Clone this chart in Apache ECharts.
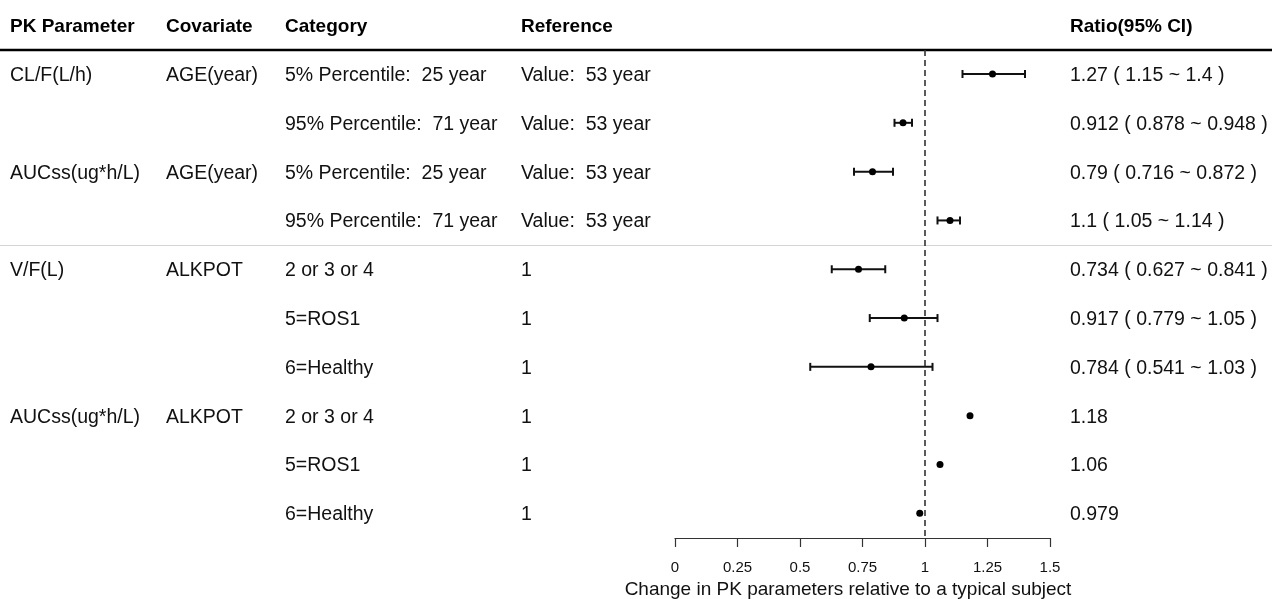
<!DOCTYPE html>
<html>
<head>
<meta charset="utf-8">
<script src="https://cdn.jsdelivr.net/npm/echarts@6/dist/echarts.min.js"></script>
<style>html,body{margin:0;padding:0;background:#fff;}#c{width:1272px;height:599px;}</style>
</head>
<body>
<div id="c"></div>
<script>
const headers = ['PK Parameter', 'Covariate', 'Category', 'Reference', 'Ratio(95% CI)'];
const pkParams = ['CL/F(L/h)', '', 'AUCss(ug*h/L)', '', 'V/F(L)', '', '', 'AUCss(ug*h/L)', '', ''];
const covariates = ['AGE(year)', '', 'AGE(year)', '', 'ALKPOT', '', '', 'ALKPOT', '', ''];
const categories = ['5% Percentile:  25 year', '95% Percentile:  71 year', '5% Percentile:  25 year', '95% Percentile:  71 year',
  '2 or 3 or 4', '5=ROS1', '6=Healthy', '2 or 3 or 4', '5=ROS1', '6=Healthy'];
const references = ['Value:  53 year', 'Value:  53 year', 'Value:  53 year', 'Value:  53 year', '1', '1', '1', '1', '1', '1'];
const ratios = [1.27, 0.912, 0.79, 1.1, 0.734, 0.917, 0.784, 1.18, 1.06, 0.979];
const lower = [1.15, 0.878, 0.716, 1.05, 0.627, 0.779, 0.541, null, null, null];
const upper = [1.4, 0.948, 0.872, 1.14, 0.841, 1.05, 1.03, null, null, null];
const ratioLabels = ['1.27 ( 1.15 ~ 1.4 )', '0.912 ( 0.878 ~ 0.948 )', '0.79 ( 0.716 ~ 0.872 )', '1.1 ( 1.05 ~ 1.14 )',
  '0.734 ( 0.627 ~ 0.841 )', '0.917 ( 0.779 ~ 1.05 )', '0.784 ( 0.541 ~ 1.03 )', '1.18', '1.06', '0.979'];
const xTicks = [0, 0.25, 0.5, 0.75, 1, 1.25, 1.5];

const FONT = '"Liberation Sans", Arial, sans-serif';
const colX = [10, 166, 285, 521, 1070];
const FS = 19.5;
const Y_MIN = 0.508, Y_MAX = 10.506;

const chart = echarts.init(document.getElementById('c'));

const textData = ratios.map((r, i) => [1, i + 1]);
const ciData = ratios.map((r, i) => [lower[i], upper[i], i + 1]).filter(d => d[0] != null);

chart.setOption({
  animation: false,
  grid: { left: 675, right: 222, top: 50, bottom: 61, containLabel: false, outerBoundsMode: 'none' },
  xAxis: {
    type: 'value', min: xTicks[0], max: xTicks[xTicks.length - 1], interval: 0.25,
    axisLine: { show: true, lineStyle: { color: '#333', width: 1.2 } },
    axisTick: { show: true, length: 9, inside: false, lineStyle: { color: '#333', width: 1.2 } },
    splitLine: { show: false },
    axisLabel: { color: '#111', fontSize: 15, fontFamily: FONT, margin: 22,
      formatter: v => String(v) },
    name: 'Change in PK parameters relative to a typical subject',
    nameLocation: 'middle', nameGap: 41,
    nameTextStyle: { color: '#111', fontSize: 19, fontFamily: FONT, padding: [0, 29, 0, 0] }
  },
  yAxis: {
    type: 'value', inverse: true, min: Y_MIN, max: Y_MAX,
    show: false, splitLine: { show: false }
  },
  graphic: [
    ...headers.map((h, i) => ({
      type: 'text', x: colX[i], y: 27,
      style: { text: h, font: 'bold 19px ' + FONT, fill: '#000', verticalAlign: 'middle' }
    })),
    { type: 'line', shape: { x1: 0, y1: 50, x2: 1272, y2: 50 }, style: { stroke: '#000', lineWidth: 2.4 } },
    { type: 'line', shape: { x1: 0, y1: 245.5, x2: 1272, y2: 245.5 }, style: { stroke: '#d4d4d4', lineWidth: 1.2 } }
  ],
  series: [
    {
      type: 'custom', name: 'text', clip: false, silent: true,
      data: textData,
      encode: { x: 0, y: 1 },
      renderItem: (params, api) => {
        const y = api.coord([1, api.value(1)])[1] + 1.5;
        const i = params.dataIndex;
        const vals = [pkParams[i], covariates[i], categories[i], references[i], ratioLabels[i]];
        return {
          type: 'group',
          children: vals.map((t, k) => ({
            type: 'text',
            style: { text: t, x: colX[k], y: y, verticalAlign: 'middle',
              font: FS + 'px ' + FONT, fill: '#111' }
          }))
        };
      }
    },
    {
      type: 'custom', name: 'ci', clip: false, silent: true,
      data: ciData,
      encode: { x: [0, 1], y: 2 },
      renderItem: (params, api) => {
        const a = api.coord([api.value(0), api.value(2)]);
        const b = api.coord([api.value(1), api.value(2)]);
        const h = 4;
        const st = { stroke: '#111', lineWidth: 2 };
        return {
          type: 'group',
          children: [
            { type: 'line', shape: { x1: a[0], y1: a[1], x2: b[0], y2: b[1] }, style: st },
            { type: 'line', shape: { x1: a[0], y1: a[1] - h, x2: a[0], y2: a[1] + h }, style: st },
            { type: 'line', shape: { x1: b[0], y1: b[1] - h, x2: b[0], y2: b[1] + h }, style: st }
          ]
        };
      }
    },
    {
      type: 'scatter', name: 'ratio', symbol: 'circle', symbolSize: 7,
      itemStyle: { color: '#000', opacity: 1 },
      data: ratios.map((r, i) => [r, i + 1]),
      z: 5,
      markLine: {
        silent: true, symbol: 'none', label: { show: false },
        lineStyle: { color: '#333', type: [6, 4], width: 1.6 },
        data: [[{ coord: [1, Y_MIN] }, { coord: [1, Y_MAX] }]]
      }
    }
  ]
});
</script>
</body>
</html>
